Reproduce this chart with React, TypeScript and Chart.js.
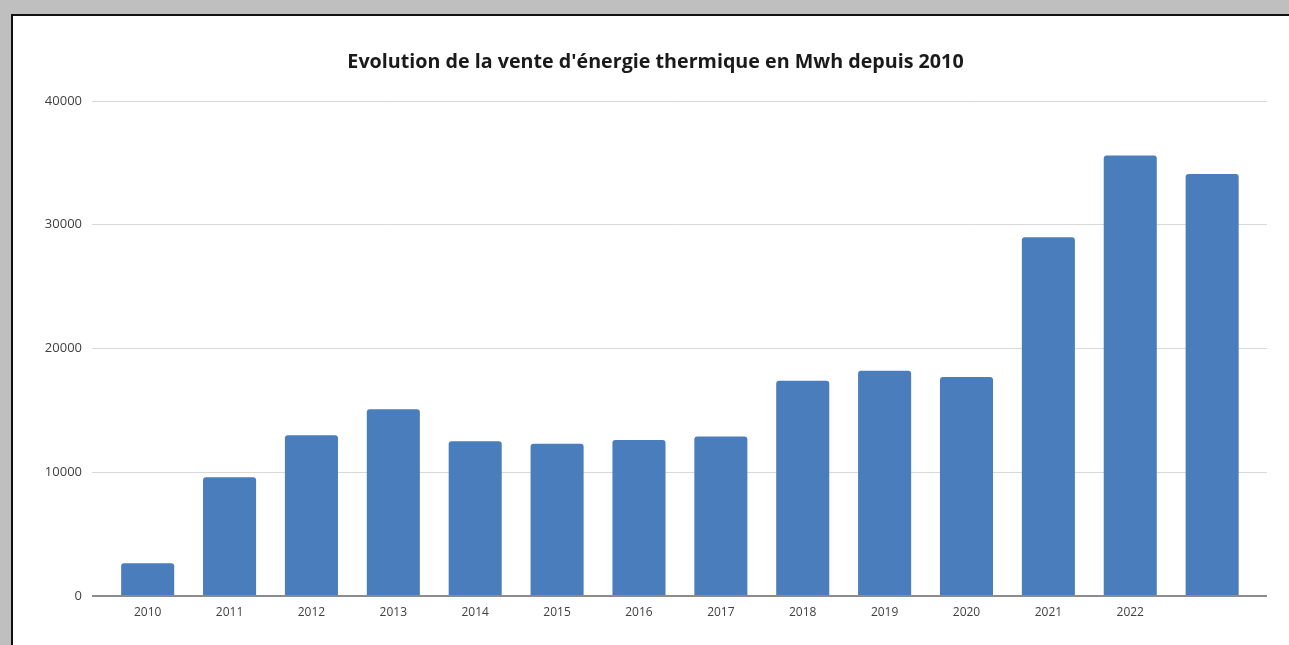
import React, { useEffect, useRef } from "react";
import { Chart, registerables } from "chart.js";

Chart.register(...registerables);

const TITLE = "Evolution de la vente d'énergie thermique en Mwh depuis 2010";
const yearLabels = ["2010", "2011", "2012", "2013", "2014", "2015", "2016", "2017", "2018", "2019", "2020", "2021", "2022", ""];
const venteMwh = [2650, 9600, 13000, 15100, 12500, 12300, 12600, 12900, 17400, 18200, 17700, 29000, 35600, 34100];
const yTicks = [0, 10000, 20000, 30000, 40000];

export default function App() {
  const ref = useRef<HTMLCanvasElement | null>(null);

  useEffect(() => {
    if (!ref.current) return;
    const chart = new Chart(ref.current, {
      type: "bar",
      data: {
        datasets: [
          {
            label: "Vente",
            data: venteMwh.map((v, i) => ({ x: i, y: v })),
            backgroundColor: "#4a7dbb",
            borderRadius: 3,
            borderSkipped: "bottom",
            categoryPercentage: 0.8,
            barPercentage: 0.81,
          },
        ],
      },
      options: {
        animation: false,
        responsive: false,
        maintainAspectRatio: false,
        layout: { padding: { top: 0, right: 22, bottom: 0, left: 30 } },
        plugins: {
          legend: { display: false },
          tooltip: { enabled: false },
          title: {
            display: true,
            text: TITLE,
            color: "#1a1a1a",
            font: { family: "'Open Sans', sans-serif", size: 19.7, weight: "bold" },
            padding: { top: 34, bottom: 26.4 },
          },
        },
        scales: {
          x: {
            type: "linear",
            offset: false,
            min: -0.68,
            max: 13.67,
            grid: { display: false },
            border: { display: false },
            ticks: {
              stepSize: 1,
              includeBounds: false,
              autoSkip: false,
              maxRotation: 0,
              padding: 1,
              color: "#404040",
              font: { family: "'Open Sans', sans-serif", size: 12 },
              callback: (v: any) => {
                const i = Number(v);
                return Number.isInteger(i) && yearLabels[i] !== undefined ? yearLabels[i] : "";
              },
            },
            afterFit: (s: any) => {
              s.height = 49;
            },
          },
          y: {
            min: 0,
            max: 40000,
            afterBuildTicks: (s: any) => {
              s.ticks = yTicks.map((v) => ({ value: v }));
            },
            grid: {
              drawTicks: false,
              color: (c: any) => (c.tick && c.tick.value === 0 ? "#8c8c8c" : "#d9d9d9"),
              lineWidth: (c: any) => (c.tick && c.tick.value === 0 ? 2 : 1),
            },
            border: { display: false },
            ticks: {
              padding: 10,
              color: "#404040",
              font: { family: "'Open Sans', sans-serif", size: 13 },
              callback: (v: any) => String(v),
            },
            afterFit: (s: any) => {
              s.width = 48;
            },
          },
        },
      },
    });
    return () => chart.destroy();
  }, []);

  return (
    <div
      style={{
        position: "fixed",
        left: 0,
        top: 0,
        width: 1289,
        height: 645,
        background: "#bfbfbf",
        overflow: "hidden",
      }}
    >
      <div
        style={{
          position: "absolute",
          left: 11,
          top: 14,
          width: 1289 - 11,
          height: 645 - 14,
          background: "#ffffff",
          borderLeft: "2px solid #111",
          borderTop: "2px solid #111",
          boxSizing: "border-box",
        }}
      >
        <canvas ref={ref} width={1275} height={628} style={{ position: "absolute", left: 1, top: 1, display: "block" }} />
      </div>
    </div>
  );
}
